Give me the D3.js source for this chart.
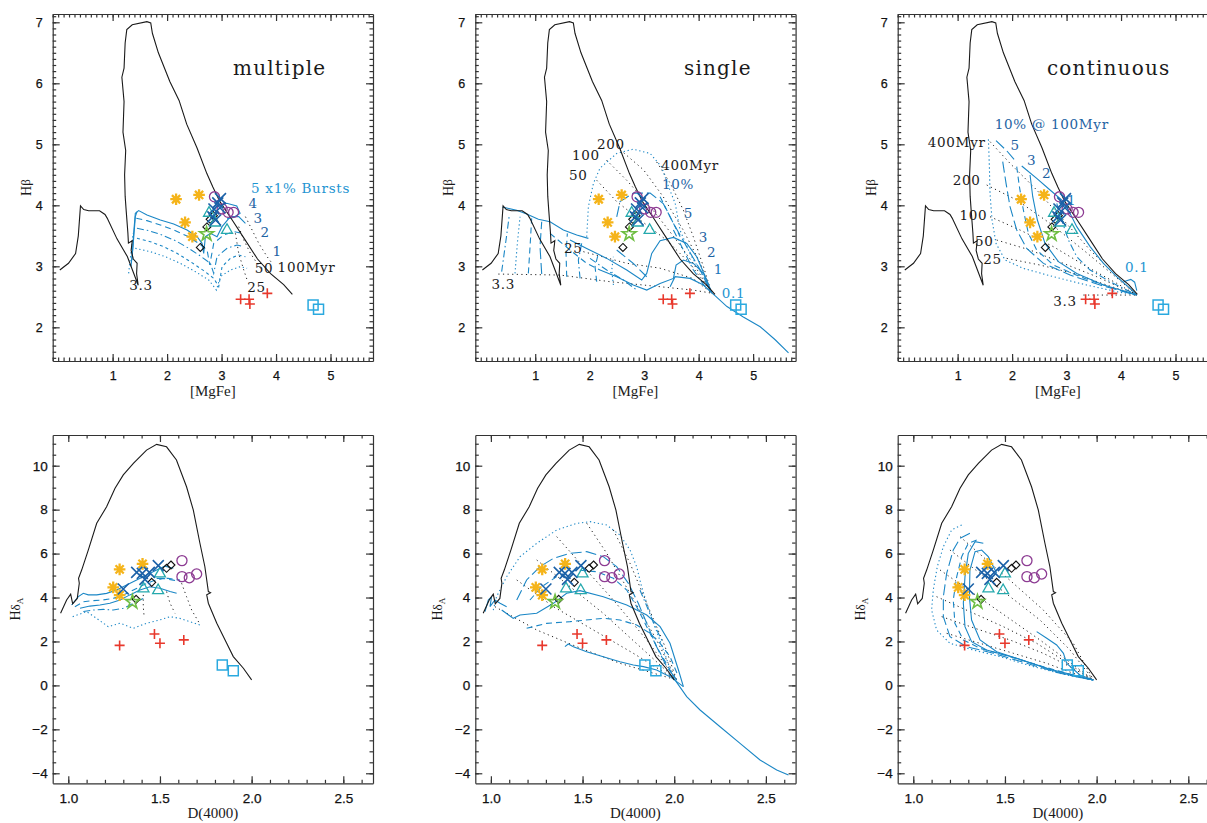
<!DOCTYPE html>
<html>
<head>
<meta charset="utf-8">
<title>Burst models: Hbeta / HdeltaA index diagrams</title>
<script src="https://d3js.org/d3.v7.min.js"></script>
<style>
  body { margin: 0; background: #fff; }
  svg { display: block; }
  .tick text { font-family: "Liberation Sans", Arial, sans-serif; fill: #111; stroke: #111; stroke-width: 0.25px; }
  .axis path, .axis line { stroke: #333; stroke-width: 1.2px; }
  .lbl { font-family: "DejaVu Serif", serif; }
  .atitle { font-family: "Liberation Serif", "Times New Roman", serif; fill: #1a1a1a; }
</style>
</head>
<body>
<div id="chart"></div>
<script>
// ---- tick labels
const topXTicks = [1, 2, 3, 4, 5];
const topYTicks = [2, 3, 4, 5, 6, 7];
const botXTicks = [1.0, 1.5, 2.0, 2.5];
const botYTicks = [-4, -2, 0, 2, 4, 6, 8, 10];

// ---- SSP track (black solid), [MgFe] vs Hbeta and D4000 vs HdA
const sspTop = [[0.03,2.94],[0.19,3.05],[0.32,3.21],[0.37,3.5],[0.41,3.99],[0.47,3.93],[0.56,3.91],[0.76,3.91],[0.86,3.85],[0.9,3.79],[1.08,3.45],[1.27,3.16],[1.47,2.69],[1.44,2.88],[1.45,3.05],[1.38,3.12],[1.34,3.26],[1.36,3.42],[1.29,3.38],[1.28,3.55],[1.25,3.9],[1.23,4.15],[1.22,4.5],[1.24,4.9],[1.19,5.2],[1.21,5.7],[1.17,6.1],[1.21,6.25],[1.23,6.66],[1.26,6.88],[1.36,6.96],[1.63,7.01],[1.70,6.99],[1.73,6.82],[1.84,6.5],[2.05,6.03],[2.22,5.72],[2.36,5.33],[2.55,4.94],[2.73,4.52],[2.84,4.3],[2.97,4.06],[3.18,3.78],[3.42,3.45],[3.66,3.12],[3.9,2.88],[4.14,2.7],[4.3,2.54]];
const sspBot = [[0.958,3.28],[0.991,3.89],[1.013,4.15],[1.024,3.71],[1.049,3.96],[1.06,4.65],[1.056,4.87],[1.073,5.25],[1.109,6.16],[1.155,7.38],[1.209,8.13],[1.255,8.97],[1.3,9.58],[1.355,10.11],[1.427,10.71],[1.482,10.97],[1.536,10.86],[1.59,10.26],[1.645,9.04],[1.682,7.98],[1.718,6.47],[1.745,5.4],[1.764,4.27],[1.776,4.22],[1.755,4.12],[1.764,3.74],[1.81,2.83],[1.864,1.92],[1.9,1.31],[1.955,0.78],[2.0,0.25]];

// ---- observed galaxies, top row
const obsTopAsterisk = [[2.165,4.10],[2.587,4.17],[2.33,3.72],[2.464,3.486]];
const obsTopStar = [[2.725,3.53]];
const obsTopDiamond = [[2.61,3.31],[2.73,3.645],[2.79,3.77],[2.85,3.83]];
const obsTopCircle = [[2.87,4.14],[3.01,3.94],[3.12,3.885],[3.22,3.885]];
const obsTopCross = [[2.98,4.11],[2.93,4.04],[2.97,3.96],[2.86,3.94],[2.84,3.81],[2.89,3.76]];
const obsTopTriangle = [[2.77,3.88],[2.88,3.72],[3.1,3.6]];
const obsTopPlus = [[3.35,2.46],[3.505,2.46],[3.52,2.383],[3.84,2.557]];
const obsTopSquare = [[4.68,2.366],[4.78,2.295]];

// ---- observed galaxies, bottom row
const obsBotAsterisk = [[1.28,5.28],[1.405,5.53],[1.245,4.46],[1.28,4.11]];
const obsBotStar = [[1.35,3.8]];
const obsBotDiamond = [[1.37,3.92],[1.455,4.69],[1.536,5.33],[1.56,5.48]];
const obsBotCircle = [[1.62,5.68],[1.62,4.95],[1.66,4.9],[1.70,5.07]];
const obsBotCross = [[1.373,5.146],[1.404,5.1],[1.442,5.146],[1.418,4.828],[1.491,5.45],[1.3,4.388]];
const obsBotTriangle = [[1.41,4.42],[1.5,5.1],[1.49,4.34]];
const obsBotPlus = [[1.28,1.82],[1.47,2.34],[1.5,1.92],[1.63,2.07]];
const obsBotSquare = [[1.84,0.93],[1.9,0.67]];

// ---- multiple bursts, top
const multTopBurst = [
  [[1.355,3.104],[1.386,3.541],[1.417,3.869],[1.478,3.913],[1.631,3.842],[1.876,3.76],[2.121,3.694],[2.366,3.596],[2.55,3.486],[2.642,3.377],[2.672,3.213],[2.703,3.486],[2.795,3.541],[2.917,3.486],[3.009,3.65],[3.162,3.814],[3.315,3.814],[3.438,3.705]],
  [[1.435,3.787],[1.631,3.749],[1.876,3.678],[2.121,3.596],[2.366,3.497],[2.58,3.377],[2.734,3.268],[2.783,3.022],[2.856,3.377],[3.04,3.514],[3.224,3.568],[3.377,3.541]],
  [[1.447,3.623],[1.662,3.585],[1.907,3.514],[2.152,3.421],[2.397,3.295],[2.611,3.169],[2.795,3.049],[2.856,2.885],[2.917,3.158],[3.101,3.295],[3.285,3.35],[3.407,3.322]],
  [[1.447,3.459],[1.692,3.404],[1.937,3.322],[2.182,3.213],[2.427,3.077],[2.672,2.929],[2.856,2.803],[2.948,2.667],[3.009,2.995],[3.162,3.131],[3.315,3.186],[3.438,3.158]],
  [[1.417,3.295],[1.692,3.24],[1.968,3.158],[2.243,3.049],[2.519,2.913],[2.764,2.776],[2.905,2.612],[2.979,2.831],[3.162,2.94],[3.346,2.995],[3.469,2.967]],
  [[1.337,2.995],[1.374,3.322],[1.417,3.814],[1.447,3.896]],
  [[1.294,2.885],[1.337,3.213],[1.374,3.541]],
  [[2.79,3.84],[2.911,3.978],[3.095,4.033],[3.279,3.989],[3.34,3.869],[3.22,3.8],[3.1,3.78]]
];
const multTopBurstStyle = ["solid","dash","dashdot","shortdash","dot","solid","dot","solid"];
const multTopAge = [
  [[3.438,3.814],[3.56,3.596],[3.683,3.377],[3.836,3.158],[3.928,3.049]],
  [[3.315,3.65],[3.407,3.432],[3.53,3.213],[3.652,3.049],[3.714,2.967]],
  [[3.254,3.541],[3.315,3.213],[3.407,2.94],[3.469,2.776]]
];
const multTopLabels = [
  ["5 x1% Bursts",4.45,4.29,"light"],["4",3.58,4.04,"dark"],["3",3.67,3.80,"dark"],["2",3.80,3.57,"dark"],["1",4.02,3.257,"dark"],
  ["50",3.78,2.967,"black"],["100Myr",4.56,2.995,"black"],["25",3.64,2.656,"black"],["3.3",1.52,2.694,"black"]
];

// ---- single burst, top
const singleTopFrac = [
  [[1.945,3.485],[1.976,3.977],[2.068,4.36],[2.19,4.61],[2.496,4.85],[2.80,4.92],[3.11,4.85],[3.32,4.63],[3.45,4.30],[3.57,4.03],[3.66,3.59],[3.84,3.21],[4.09,2.83],[4.24,2.57]],
  [[2.496,3.81],[2.557,4.06],[2.80,4.20],[3.11,4.20],[3.35,4.03],[3.54,3.70],[3.78,3.32],[4.03,2.94],[4.22,2.58]],
  [[1.639,3.431],[1.945,3.294],[2.313,3.13],[2.68,2.939],[2.955,2.775],[3.047,2.884],[3.139,3.212],[3.292,3.42],[3.537,3.474],[3.782,3.376],[3.965,3.157],[4.149,2.775],[4.24,2.567]],
  [[2.19,2.939],[2.496,2.83],[2.80,2.693],[3.047,2.611],[3.292,2.72],[3.537,2.802],[3.586,3.021],[3.72,3.103],[3.904,3.048],[4.088,2.884],[4.222,2.584]],
  [[3.476,2.666],[3.567,2.83],[3.843,2.802],[4.088,2.693],[4.24,2.567]],
  [[0.40,3.97],[0.66,3.92],[0.843,3.857],[1.058,3.77],[1.272,3.731],[1.517,3.595],[1.762,3.513],[1.976,3.458]],
  [[4.24,2.567],[4.30,2.52],[4.52,2.34],[4.82,2.17],[5.13,2.01],[5.40,1.80],[5.65,1.58]],
  [[0.384,2.912],[0.464,3.431],[0.525,3.841]],
  [[0.629,2.884],[0.672,3.376],[0.721,3.813]],
  [[0.874,2.884],[0.905,3.322],[0.935,3.786]],
  [[1.119,2.873],[1.088,3.322],[1.119,3.731]],
  [[1.578,2.83],[1.566,3.212],[1.59,3.54]],
  [[1.823,2.802],[1.792,3.103],[1.853,3.376]],
  [[2.129,2.748],[2.098,2.994],[2.16,3.212]],
  [[2.435,2.693],[2.405,2.939],[2.435,3.157]],
  [[1.272,3.54],[1.639,3.267],[1.945,3.048],[2.19,2.939]],
  [[2.006,3.13],[2.313,2.939],[2.619,2.775],[2.864,2.611]],
  [[2.496,3.267],[2.80,3.048],[3.047,2.829]],
  [[3.292,4.141],[3.476,3.813],[3.66,3.485]],
  [[3.537,3.595],[3.72,3.267],[3.904,2.939],[4.118,2.666]]
];
const singleTopFracStyle = ["dot","longdash","solid","solid","solid","solid","solid",
  "dashdot","dot","dash","longdash","dash","dashdot","dash","dot","dash","dashdot","longdash","dash","dashdot"];
const singleTopAge = [
  [[0.323,2.873],[1.456,2.857],[2.374,2.748],[3.29,2.666],[3.90,2.61],[4.24,2.56]],
  [[1.884,3.24],[2.68,3.05],[3.29,2.97],[3.9,2.80],[4.24,2.56]],
  [[2.13,4.41],[2.497,4.06],[2.925,3.76],[3.41,3.43],[3.84,3.05],[4.24,2.56]],
  [[2.31,4.74],[2.68,4.41],[3.11,3.98],[3.54,3.49],[3.9,3.05],[4.24,2.56]],
  [[2.56,4.91],[2.99,4.58],[3.35,4.14],[3.72,3.59],[4.03,3.05],[4.24,2.56]],
  [[3.23,4.71],[3.48,4.36],[3.72,3.92],[3.90,3.49],[4.09,2.99],[4.24,2.56]]
];
const singleTopLabels = [
  ["200",2.39,5.0,"black"],["100",1.93,4.83,"black"],["50",1.79,4.496,"black"],["400Myr",3.843,4.66,"black"],
  ["25",1.70,3.294,"black"],["3.3",0.415,2.71,"black"],
  ["10%",3.62,4.35,"dark"],["5",3.81,3.868,"dark"],["3",4.088,3.474,"dark"],["2",4.24,3.24,"dark"],["1",4.363,2.95,"mid"],
  ["0.1",4.64,2.56,"light"]
];

// ---- continuous, top
const contTopFrac = [
  [[1.565,5.081],[1.583,4.633],[1.595,4.196],[1.632,3.759],[1.705,3.376],[1.871,3.103],[2.207,2.966],[2.758,2.83],[3.37,2.693],[3.921,2.584],[4.289,2.529]],
  [[1.705,5.059],[1.901,4.895],[2.073,4.715]],
  [[1.828,4.715],[1.889,4.36],[1.962,3.977],[2.085,3.595],[2.268,3.294],[2.575,3.048],[3.064,2.857],[3.615,2.693],[4.166,2.557],[4.289,2.529]],
  [[2.085,4.633],[2.134,4.305],[2.207,3.923],[2.299,3.54],[2.452,3.267],[2.758,3.021],[3.248,2.83],[3.799,2.655],[4.289,2.529]],
  [[2.177,4.644],[2.452,4.442],[2.697,4.251],[2.911,4.087]],
  [[2.33,4.496],[2.379,4.141],[2.464,3.759],[2.605,3.376],[2.85,3.076],[3.187,2.884],[3.677,2.693],[4.105,2.584],[4.289,2.529]],
  [[2.82,4.032],[2.911,3.759],[3.034,3.431],[3.187,3.158],[3.432,2.939],[3.799,2.748],[4.166,2.584],[4.289,2.529]],
  [[3.003,3.977],[3.187,3.65],[3.432,3.322],[3.677,3.048],[3.921,2.83],[4.166,2.639],[4.289,2.529]],
  [[4.044,2.748],[4.179,2.786],[4.25,2.74],[4.289,2.6]]
];
const contTopFracStyle = ["dot","longdash","longdash","dash","solid","solid","dashdot","solid","solid"];
const contTopAge = [
  [[1.595,5.043],[1.962,4.688],[2.452,4.251],[2.942,3.759],[3.432,3.267],[3.921,2.83],[4.289,2.529]],
  [[1.534,4.333],[2.085,4.087],[2.697,3.704],[3.309,3.267],[3.86,2.857],[4.289,2.529]],
  [[1.595,3.813],[2.146,3.595],[2.758,3.322],[3.37,2.994],[3.921,2.721],[4.289,2.529]],
  [[1.717,3.431],[2.33,3.267],[2.942,3.048],[3.554,2.83],[4.289,2.529]],
  [[1.901,3.13],[2.513,3.021],[3.126,2.884],[3.738,2.693],[4.289,2.529]],
  [[3.309,2.529],[3.799,2.529],[4.289,2.529]]
];
const contTopLabels = [
  ["10% @ 100Myr",2.728,5.33,"dark"],["5",2.054,4.988,"dark"],["3",2.36,4.742,"dark"],["2",2.636,4.524,"dark"],["1",3.095,4.087,"mid"],
  ["400Myr",0.983,5.043,"black"],["200",1.167,4.414,"black"],["100",1.289,3.841,"black"],["50",1.49,3.41,"black"],
  ["25",1.64,3.12,"black"],["3.3",2.972,2.431,"black"],["0.1",4.29,2.995,"light"]
];

// ---- multiple bursts, bottom
const multBotBurst = [
  [[1.018,3.66],[1.055,4.04],[1.082,4.19],[1.109,4.12],[1.155,4.12],[1.209,4.19],[1.264,4.34],[1.318,4.57],[1.373,4.80],[1.427,5.03],[1.482,5.25],[1.527,5.43],[1.573,5.33]],
  [[1.036,3.58],[1.082,3.81],[1.136,3.86],[1.191,3.89],[1.245,3.96],[1.3,4.11],[1.355,4.34],[1.409,4.57],[1.464,4.76],[1.518,4.87],[1.573,4.79],[1.618,4.72]],
  [[1.064,3.51],[1.118,3.61],[1.173,3.66],[1.227,3.74],[1.282,3.89],[1.336,4.12],[1.391,4.34],[1.445,4.49],[1.5,4.42],[1.555,4.27],[1.591,4.19]],
  [[1.082,3.36],[1.136,3.43],[1.191,3.46],[1.245,3.43],[1.3,3.51],[1.355,3.73],[1.409,3.96]],
  [[1.024,3.13],[1.1,3.36],[1.155,3.05],[1.218,2.67],[1.282,2.83],[1.355,2.6],[1.427,2.83],[1.5,2.98],[1.555,3.13],[1.609,3.05],[1.664,2.9],[1.718,2.75]],
  [[1.482,4.87],[1.545,4.87],[1.609,4.79]]
];
const multBotBurstStyle = ["solid","dash","solid","dashdot","dot","dash"];
const multBotAge = [
  [[1.409,4.12],[1.409,3.58],[1.413,3.2]],
  [[1.536,4.27],[1.555,3.74],[1.582,3.28]],
  [[1.618,4.65],[1.645,4.04],[1.673,3.43],[1.715,2.83]]
];

// ---- single burst, bottom
const singleBotFrac = [
  [[1.013,3.43],[1.031,4.038],[1.086,4.949],[1.159,5.859],[1.25,6.466],[1.359,7.073],[1.468,7.376],[1.541,7.452],[1.631,7.301],[1.704,6.845],[1.759,6.163],[1.795,5.404],[1.822,4.494],[1.85,3.735],[1.895,2.673],[1.941,1.611],[1.986,0.549],[2.004,0.25]],
  [[1.141,3.887],[1.195,4.798],[1.268,5.405],[1.341,5.784],[1.432,6.011],[1.523,6.087],[1.613,5.86],[1.686,5.405],[1.75,4.646],[1.804,3.736],[1.85,2.825],[1.904,1.763],[1.959,0.853],[2.013,0.246]],
  [[1.213,3.887],[1.277,4.494],[1.359,4.949],[1.468,5.253],[1.577,5.177],[1.668,4.873],[1.741,4.342],[1.795,3.584],[1.85,2.674],[1.904,1.763],[1.977,0.701],[2.013,0.246]],
  [[1.059,3.432],[1.122,3.053],[1.159,3.204],[1.25,3.28],[1.341,3.736],[1.413,4.191],[1.486,4.312],[1.613,4.039],[1.741,3.66],[1.85,3.205],[1.923,2.674],[1.977,1.915],[2.023,0.701],[2.05,-0.057]],
  [[1.195,2.598],[1.304,2.825],[1.432,2.901],[1.613,3.053],[1.704,2.977],[1.795,2.749],[1.868,2.37],[1.923,1.915],[1.977,1.308],[2.023,0.398]],
  [[1.404,1.763],[1.422,1.885],[1.45,1.763],[1.522,1.536],[1.613,1.308],[1.704,1.08],[1.777,0.929],[1.832,0.853],[1.904,0.701],[1.977,0.398],[2.05,-0.057]],
  [[0.968,3.356],[0.986,3.887],[1.004,4.039],[0.995,3.584],[1.022,3.887],[1.05,3.736],[1.086,3.584]],
  [[1.813,4.342],[1.859,3.432],[1.895,2.673],[1.941,1.914]],
  [[1.97,0.55],[2.004,0.25],[2.068,-0.513],[2.141,-1.12],[2.25,-1.88],[2.359,-2.637],[2.468,-3.396],[2.559,-3.85],[2.623,-4.08]]
];
const singleBotFracStyle = ["dot","longdash","dash","solid","dash","solid","solid","dashdot","solid"];
const singleBotAge = [
  [[1.022,3.584],[1.25,2.522],[1.468,1.763],[1.704,1.005],[2.013,0.246]],
  [[1.141,4.798],[1.341,3.584],[1.559,2.522],[1.777,1.46],[2.013,0.246]],
  [[1.25,5.708],[1.432,4.494],[1.613,3.28],[1.813,1.763],[2.013,0.246]],
  [[1.359,6.77],[1.504,5.405],[1.668,3.887],[1.85,2.067],[2.013,0.246]],
  [[1.523,7.377],[1.632,6.011],[1.759,4.191],[1.904,2.067],[2.013,0.246]],
  [[1.668,7.073],[1.759,5.556],[1.85,3.736],[1.95,1.763],[2.013,0.246]]
];

// ---- continuous, bottom
const contBotFrac = [
  [[1.264,7.301],[1.209,7.074],[1.164,6.315],[1.131,5.405],[1.109,4.343],[1.1,3.432],[1.127,2.522],[1.2,1.915],[1.327,1.612],[1.473,1.308],[1.655,0.853],[1.837,0.474],[1.982,0.246]],
  [[1.309,6.922],[1.255,6.694],[1.218,6.163],[1.182,5.101],[1.164,4.039],[1.164,3.129],[1.2,2.219],[1.291,1.763],[1.437,1.46],[1.619,1.005],[1.8,0.549],[1.982,0.246]],
  [[1.346,6.619],[1.3,6.467],[1.264,5.86],[1.237,4.95],[1.218,3.888],[1.227,2.825],[1.273,2.067],[1.364,1.688],[1.528,1.308],[1.709,0.853],[1.891,0.428],[1.982,0.246]],
  [[1.382,6.467],[1.337,6.543],[1.3,6.012],[1.282,4.95],[1.273,3.736],[1.282,2.674],[1.318,1.991],[1.4,1.612],[1.564,1.232],[1.746,0.732],[1.909,0.398],[1.982,0.246]],
  [[1.455,5.101],[1.409,5.86],[1.373,6.163],[1.337,6.088],[1.309,5.253],[1.306,4.039],[1.318,2.977],[1.364,2.067],[1.455,1.536],[1.619,1.081],[1.782,0.625],[1.928,0.322],[1.982,0.246]],
  [[1.673,2.446],[1.728,2.143],[1.782,1.839],[1.819,1.46],[1.837,1.005],[1.909,0.474],[1.982,0.246]]
];
const contBotFracStyle = ["dot","longdash","dash","solid","solid","solid"];
const contBotAge = [
  [[1.146,5.253],[1.327,4.191],[1.509,3.129],[1.691,2.067],[1.837,1.157],[1.982,0.246]],
  [[1.127,4.039],[1.309,3.356],[1.491,2.674],[1.673,1.915],[1.837,1.05],[1.982,0.246]],
  [[1.155,3.129],[1.337,2.598],[1.528,2.067],[1.709,1.46],[1.855,0.853],[1.982,0.246]],
  [[1.2,6.163],[1.364,5.101],[1.528,4.039],[1.691,2.977],[1.855,1.612],[1.982,0.246]],
  [[1.182,2.37],[1.364,1.915],[1.546,1.46],[1.728,1.005],[1.873,0.55],[1.982,0.246]],
  [[1.255,6.77],[1.4,5.708],[1.546,4.646],[1.709,3.432],[1.873,1.915],[1.982,0.246]]
];

// ---- layout / style
const W = 1207, H = 823;
const colLeft = [52.7, 475.3, 897.7];
const panelW = 320.3;
const rowTop = [14, 435];
const rowH = [347, 348.3];
const modelBlue = "#1b87c6";
const textColor = { black: "#1a1a1a", dark: "#1e63a3", mid: "#1a78bb", light: "#1f95d2" };
const dashes = { solid: null, dot: "1.3,2.7", dash: "6,4", shortdash: "3,3", dashdot: "7,3,1.5,3", longdash: "11,4" };

const svg = d3.select("#chart").append("svg").attr("width", W).attr("height", H);

const panels = [
  { col: 0, row: 0, frac: multTopBurst, style: multTopBurstStyle, age: multTopAge, labels: multTopLabels, title: "multiple", titleX: 3.21 },
  { col: 1, row: 0, frac: singleTopFrac, style: singleTopFracStyle, age: singleTopAge, labels: singleTopLabels, title: "single", titleX: 3.73 },
  { col: 2, row: 0, frac: contTopFrac, style: contTopFracStyle, age: contTopAge, labels: contTopLabels, title: "continuous", titleX: 2.64 },
  { col: 0, row: 1, frac: multBotBurst, style: multBotBurstStyle, age: multBotAge, labels: [] },
  { col: 1, row: 1, frac: singleBotFrac, style: singleBotFracStyle, age: singleBotAge, labels: [] },
  { col: 2, row: 1, frac: contBotFrac, style: contBotFracStyle, age: contBotAge, labels: [] }
];

function drawPanel(p, idx) {
  const isTop = p.row === 0;
  const left = colLeft[p.col], top = rowTop[p.row], w = panelW, h = rowH[p.row];
  const x = d3.scaleLinear().domain(isTop ? [-0.1, 5.78] : [0.915, 2.662]).range([left, left + w]);
  const y = d3.scaleLinear().domain(isTop ? [1.448, 7.136] : [-4.456, 11.397]).range([top + h, top]);
  const g = svg.append("g");
  const fs = isTop ? 12.5 : 13.5;

  const xMaj = isTop ? topXTicks : botXTicks;
  const yMaj = isTop ? topYTicks : botYTicks;
  const xMin = x.ticks(isTop ? 58 : 17);
  const yMin = y.ticks(isTop ? 57 : 32);
  const xFmt = isTop ? d3.format("d") : d3.format(".1f");
  const yFmt = d => (d < 0 ? "\u2212" + Math.abs(d) : String(d));

  const ax = (axis, tr) => {
    const a = g.append("g").attr("class", "axis").attr("transform", tr).call(axis);
    a.selectAll("text").style("font-size", fs + "px");
    return a;
  };
  const noDom = sel => sel.select(".domain").remove();
  // major ticks with labels
  ax(d3.axisBottom(x).tickValues(xMaj).tickFormat(xFmt).tickSize(-7).tickSizeOuter(0).tickPadding(10), `translate(0,${top + h})`);
  ax(d3.axisLeft(y).tickValues(yMaj).tickFormat(yFmt).tickSize(-7).tickSizeOuter(0).tickPadding(isTop ? 10 : 5), `translate(${left},0)`);
  ax(d3.axisTop(x).tickValues(xMaj).tickFormat("").tickSize(-7).tickSizeOuter(0), `translate(0,${top})`);
  ax(d3.axisRight(y).tickValues(yMaj).tickFormat("").tickSize(-7).tickSizeOuter(0), `translate(${left + w},0)`);
  // minor ticks
  noDom(ax(d3.axisBottom(x).tickValues(xMin).tickFormat("").tickSize(-3.5), `translate(0,${top + h})`));
  noDom(ax(d3.axisTop(x).tickValues(xMin).tickFormat("").tickSize(-3.5), `translate(0,${top})`));
  noDom(ax(d3.axisLeft(y).tickValues(yMin).tickFormat("").tickSize(-3.5), `translate(${left},0)`));
  noDom(ax(d3.axisRight(y).tickValues(yMin).tickFormat("").tickSize(-3.5), `translate(${left + w},0)`));

  // axis titles
  g.append("text").attr("class", "atitle")
    .attr("x", left + w / 2).attr("y", top + h + 35)
    .attr("text-anchor", "middle").style("font-size", "15px")
    .text(isTop ? "[MgFe]" : "D(4000)");
  const yt = g.append("text").attr("class", "atitle")
    .attr("transform", `translate(${left - (isTop ? 22 : 33)},${top + h / 2}) rotate(-90)`)
    .attr("text-anchor", "middle").style("font-size", "14px");
  yt.append("tspan").text("H");
  if (isTop) {
    yt.append("tspan").style("font-size", "13px").attr("dy", -1).text("\u03b2");
  } else {
    yt.append("tspan").style("font-size", "13px").text("\u03b4");
    yt.append("tspan").style("font-size", "9px").attr("dy", 3).text("A");
  }

  // plot area
  const clipId = "clip" + idx;
  g.append("clipPath").attr("id", clipId).append("rect")
    .attr("x", left).attr("y", top).attr("width", w).attr("height", h);
  const plot = g.append("g").attr("clip-path", `url(#${clipId})`);
  const line = d3.line().x(d => x(d[0])).y(d => y(d[1]));

  plot.selectAll("path.age").data(p.age).join("path").attr("class", "age")
    .attr("d", line).attr("fill", "none").attr("stroke", "#222")
    .attr("stroke-width", 1).attr("stroke-dasharray", "1.2,3.4");

  plot.selectAll("path.frac").data(p.frac).join("path").attr("class", "frac")
    .attr("d", line).attr("fill", "none").attr("stroke", modelBlue)
    .attr("stroke-width", 1.1).attr("stroke-dasharray", (d, i) => dashes[p.style[i]]);

  plot.append("path").datum(isTop ? sspTop : sspBot)
    .attr("d", line).attr("fill", "none").attr("stroke", "#1a1a1a").attr("stroke-width", 1.1);

  // observed points
  const obs = isTop
    ? { ast: obsTopAsterisk, star: obsTopStar, dia: obsTopDiamond, circ: obsTopCircle, cross: obsTopCross, tri: obsTopTriangle, plus: obsTopPlus, sq: obsTopSquare }
    : { ast: obsBotAsterisk, star: obsBotStar, dia: obsBotDiamond, circ: obsBotCircle, cross: obsBotCross, tri: obsBotTriangle, plus: obsBotPlus, sq: obsBotSquare };
  const mark = (data, path, color, sw) => plot.append("g").selectAll("path").data(data).join("path")
    .attr("transform", d => `translate(${x(d[0])},${y(d[1])})`)
    .attr("d", path).attr("fill", "none").attr("stroke", color).attr("stroke-width", sw);

  const r = 5.8, a = 4.1;
  mark(obs.dia, "M0,-4L4,0L0,4L-4,0Z", "#111", 1.1);
  mark(obs.sq, "M-5,-5H5V5H-5Z", "#2aa9df", 1.5);
  mark(obs.plus, "M-5,0H5M0,-5V5", "#e8382c", 1.6);
  mark(obs.tri, "M0,-6L5.5,3.6L-5.5,3.6Z", "#25a9ad", 1.3);
  mark(obs.circ, d3.symbol(d3.symbolCircle, 80)(), "#8d3c93", 1.3);
  mark(obs.star, d3.symbol(d3.symbolStar, 60)(), "#6fbe43", 1.6);
  mark(obs.ast, `M${-r},0H${r}M0,${-r}V${r}M${-a},${-a}L${a},${a}M${-a},${a}L${a},${-a}`, "#f5b41a", 2.3);
  mark(obs.cross, "M-5.5,-5.5L5.5,5.5M-5.5,5.5L5.5,-5.5", "#1c62a8", 1.6);

  // labels
  plot.selectAll("text.lbl").data(p.labels).join("text").attr("class", "lbl")
    .attr("x", d => x(d[1])).attr("y", d => y(d[2]))
    .attr("text-anchor", "middle").attr("dominant-baseline", "central")
    .style("font-size", "13.5px").style("letter-spacing", "0.7px")
    .attr("fill", d => textColor[d[3]]).text(d => d[0]);

  if (p.title) {
    plot.append("text").attr("class", "lbl")
      .attr("x", x(p.titleX)).attr("y", y(6.25))
      .attr("dominant-baseline", "central")
      .style("font-size", "20px").style("letter-spacing", "1.2px")
      .attr("fill", "#1a1a1a").text(p.title);
  }
}

panels.forEach(drawPanel);
</script>
</body>
</html>
